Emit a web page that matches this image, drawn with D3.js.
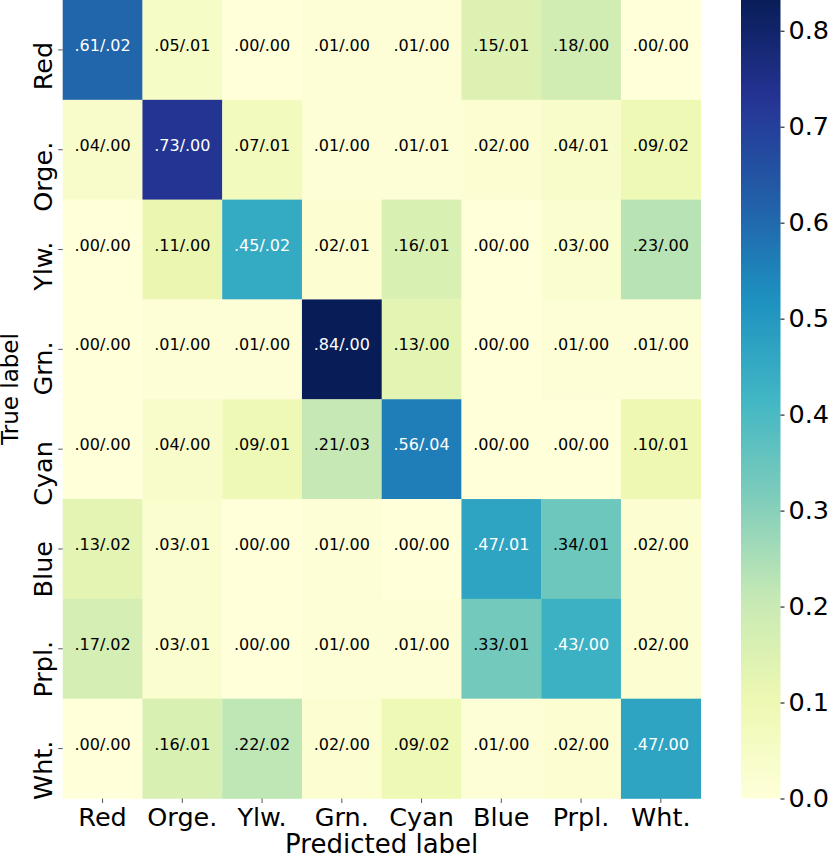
<!DOCTYPE html>
<html>
<head>
<meta charset="utf-8">
<script src="https://cdn.jsdelivr.net/npm/d3@7"></script>
<style>
  body { margin: 0; background: #fff; }
  svg text { font-family: "DejaVu Sans", sans-serif; }
</style>
</head>
<body>
<svg id="confMat"></svg>
<script>
// category labels (rows = true, columns = predicted)
let labels = ["Red", "Orge.", "Ylw.", "Grn.", "Cyan", "Blue", "Prpl.", "Wht."];

// mean rates per cell
let means = [
  [0.61, 0.05, 0.00, 0.01, 0.01, 0.15, 0.18, 0.00],
  [0.04, 0.73, 0.07, 0.01, 0.01, 0.02, 0.04, 0.09],
  [0.00, 0.11, 0.45, 0.02, 0.16, 0.00, 0.03, 0.23],
  [0.00, 0.01, 0.01, 0.84, 0.13, 0.00, 0.01, 0.01],
  [0.00, 0.04, 0.09, 0.21, 0.56, 0.00, 0.00, 0.10],
  [0.13, 0.03, 0.00, 0.01, 0.00, 0.47, 0.34, 0.02],
  [0.17, 0.03, 0.00, 0.01, 0.01, 0.33, 0.43, 0.02],
  [0.00, 0.16, 0.22, 0.02, 0.09, 0.01, 0.02, 0.47]
];

// standard deviations per cell
let stds = [
  [0.02, 0.01, 0.00, 0.00, 0.00, 0.01, 0.00, 0.00],
  [0.00, 0.00, 0.01, 0.00, 0.01, 0.00, 0.01, 0.02],
  [0.00, 0.00, 0.02, 0.01, 0.01, 0.00, 0.00, 0.00],
  [0.00, 0.00, 0.00, 0.00, 0.00, 0.00, 0.00, 0.00],
  [0.00, 0.00, 0.01, 0.03, 0.04, 0.00, 0.00, 0.01],
  [0.02, 0.01, 0.00, 0.00, 0.00, 0.01, 0.01, 0.00],
  [0.02, 0.01, 0.00, 0.00, 0.00, 0.01, 0.00, 0.00],
  [0.00, 0.01, 0.02, 0.00, 0.02, 0.00, 0.00, 0.00]
];

// colorbar ticks
let cbarTicks = [0.0, 0.1, 0.2, 0.3, 0.4, 0.5, 0.6, 0.7, 0.8];

// sizes
let widthSVG = 830;
let heightSVG = 861;
let margins = { top: 0, left: 62.7 };
let width = 638;
let height = 798.5;
let vmax = 0.832;
let tickFont = '25.5px';

let SVG = d3.select('svg#confMat')
            .attr('width', widthSVG)
            .attr('height', heightSVG);

let SVGG = SVG.append('g')
              .attr('transform', `translate(${margins.left}, ${margins.top})`);

// scales
let x = d3.scaleBand().domain(labels).range([0, width]);
let y = d3.scaleBand().domain(labels).range([0, height]);

// YlGnBu (matplotlib style, linear segments)
let ylgnbu = ["#ffffd9", "#edf8b1", "#c7e9b4", "#7fcdbb", "#41b6c4",
              "#1d91c0", "#225ea8", "#253494", "#081d58"];
let color = d3.scaleLinear()
              .domain(ylgnbu.map((c, i) => i * vmax / (ylgnbu.length - 1)))
              .range(ylgnbu)
              .interpolate(d3.interpolateRgb)
              .clamp(true);

// seaborn-like text colour choice
function lum(c) {
  let rgb = d3.rgb(c);
  let f = v => { v = v / 255; return v <= 0.03928 ? v / 12.92 : Math.pow((v + 0.055) / 1.055, 2.4); };
  return 0.2126 * f(rgb.r) + 0.7152 * f(rgb.g) + 0.0722 * f(rgb.b);
}

let fmt = v => d3.format('.2f')(v).replace(/^0/, '');

let cells = [];
means.forEach((row, i) => row.forEach((v, j) => {
  cells.push({ r: labels[i], c: labels[j], m: v, s: stds[i][j] });
}));

// heat cells
SVGG.selectAll('rect.cell')
  .data(cells)
  .enter()
  .append('rect')
  .attr('class', 'cell')
  .attr('x', d => x(d.c))
  .attr('y', d => y(d.r))
  .attr('width', x.bandwidth() + 0.3)
  .attr('height', y.bandwidth() + 0.3)
  .style('fill', d => color(d.m));

// annotations
SVGG.selectAll('text.annot')
  .data(cells)
  .enter()
  .append('text')
  .attr('class', 'annot')
  .attr('x', d => x(d.c) + x.bandwidth() / 2)
  .attr('y', d => y(d.r) + y.bandwidth() / 2 + 1)
  .style('text-anchor', 'middle')
  .style('font-size', '16px')
  .style('fill', d => lum(color(d.m)) > 0.408 ? '#000' : '#fff')
  .text(d => fmt(d.m) + '/' + fmt(d.s));

// x axis
let xAxis = SVGG.append('g')
  .attr('transform', `translate(0, ${height})`)
  .call(d3.axisBottom(x).tickSize(4.5).tickPadding(4));
xAxis.select('.domain').remove();
xAxis.selectAll('.tick line').style('stroke', '#555').style('stroke-width', 1);
xAxis.selectAll('.tick text')
  .style('font-size', tickFont)
  .style('fill', '#000')
  .style('font-family', '"DejaVu Sans", sans-serif')
  .attr('dy', '0.76em');

// y axis
let yAxis = SVGG.append('g')
  .call(d3.axisLeft(y).tickSize(4.5).tickFormat(''));
yAxis.select('.domain').remove();
yAxis.selectAll('.tick line').style('stroke', '#555').style('stroke-width', 1);
yAxis.selectAll('.tick')
  .append('text')
  .attr('transform', 'translate(-11, -8) rotate(-90)')
  .style('text-anchor', 'end')
  .style('font-size', tickFont)
  .style('fill', '#000')
  .text(d => d);

// axis labels
SVG.append('text')
  .attr('x', margins.left + width / 2)
  .attr('y', 852.5)
  .style('text-anchor', 'middle')
  .style('font-size', '26px')
  .text('Predicted label');

SVG.append('text')
  .attr('transform', `translate(18.3, 389) rotate(-90)`)
  .style('text-anchor', 'middle')
  .style('font-size', '23px')
  .text('True label');

// colorbar
let cbX = 741;
let cbW = 39.5;
let cbScale = d3.scaleLinear().domain([0, vmax]).range([height, 0]);

let defs = SVG.append('defs');
let grad = defs.append('linearGradient')
  .attr('id', 'cbGrad')
  .attr('x1', 0).attr('y1', 1).attr('x2', 0).attr('y2', 0);
grad.selectAll('stop')
  .data(d3.range(0, 1.0001, 0.02))
  .enter()
  .append('stop')
  .attr('offset', d => d)
  .attr('stop-color', d => color(d * vmax));

SVG.append('rect')
  .attr('x', cbX)
  .attr('y', margins.top)
  .attr('width', cbW)
  .attr('height', height)
  .style('fill', 'url(#cbGrad)');

let cbAxis = SVG.append('g')
  .attr('transform', `translate(${cbX + cbW}, ${margins.top})`)
  .call(d3.axisRight(cbScale).tickValues(cbarTicks).tickFormat(d3.format('.1f')).tickSize(4).tickPadding(4));
cbAxis.select('.domain').remove();
cbAxis.selectAll('.tick line').style('stroke', '#000').style('stroke-width', 1);
cbAxis.selectAll('.tick text')
  .style('font-size', tickFont)
  .style('fill', '#000')
  .style('font-family', '"DejaVu Sans", sans-serif');
</script>
</body>
</html>
